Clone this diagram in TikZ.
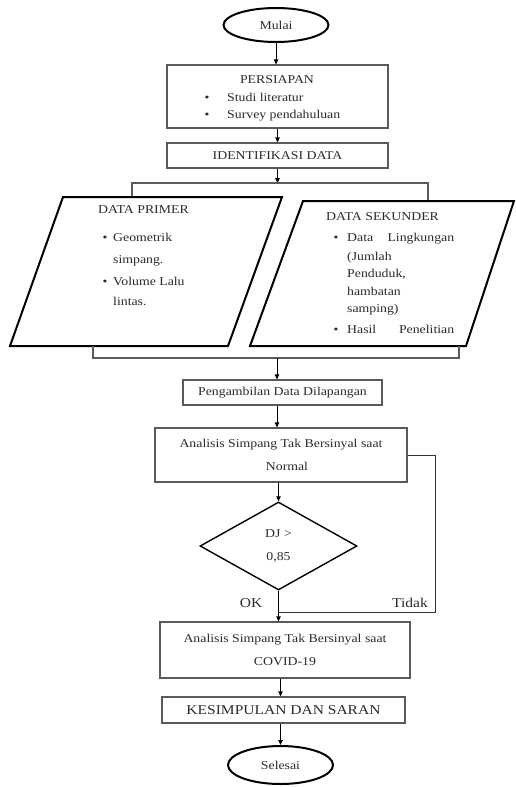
\documentclass[tikz,border=0pt]{standalone}
\usepackage{fontspec}
\setmainfont[FakeStretch=1.15]{Liberation Serif}
\usetikzlibrary{arrows.meta,shapes.geometric}
\definecolor{ink}{HTML}{2A2A2A}
\definecolor{boxline}{HTML}{5A5A5A}
\newcommand\myfs{\fontsize{12}{23}\selectfont}
\newcommand\mybig{\fontsize{13.5}{16}\selectfont}
\begin{document}
\begin{tikzpicture}[x=1pt,y=-1pt,
  every node/.style={text=ink,font=\myfs},
  term/.style={ellipse,draw=black,line width=2pt,inner sep=0pt},
  procbox/.style={rectangle,draw=boxline,line width=1.2pt,inner sep=0pt,align=center},
  decis/.style={diamond,draw=black,line width=1.4pt,inner sep=0pt,align=center},
  para/.style={draw=black,line width=2pt,line join=miter},
  conn/.style={draw=boxline,line width=1.1pt},
  fbline/.style={draw=black!80,line width=1pt},
  arr/.style={draw=black,line width=0.9pt,-{Triangle[length=5pt,width=4.5pt]}},
  txt/.style={inner sep=0pt,text height=8pt,text depth=2pt}]
\path[use as bounding box] (0,0) rectangle (516,787);

% top part
\node[term,minimum width=105pt,minimum height=34pt] (mulai) at (276,25) {Mulai};
\node[procbox,minimum width=221pt,minimum height=63pt] (persiapan) at (277.5,96.5) {};
\node[txt] (persT) at (277,80) {PERSIAPAN};
\node[txt] (pb1) at (207,98) {\textbullet};
\node[txt,anchor=west] (ps1) at (227,98) {Studi literatur};
\node[txt] (pb2) at (207,115) {\textbullet};
\node[txt,anchor=west] (ps2) at (227,115) {Survey pendahuluan};
\node[procbox,minimum width=221pt,minimum height=25pt] (ident) at (277.5,155.5) {IDENTIFIKASI DATA};

\draw[arr] (mulai.south) -- (mulai.south |- persiapan.north);
\draw[arr] (persiapan.south) -- (ident.north);
\coordinate (topbar) at (277.5,183);
\draw[arr] (ident.south) -- (topbar);
\coordinate (tbl) at (132,197);
\coordinate (tbr) at (428,183);
\coordinate (tbrd) at (428,201);
\draw[conn] (tbl) |- (tbr) -- (tbrd);

% parallelograms
\draw[para] (63,197) -- (282,197) -- (228,346) -- (10,346) -- cycle;
\draw[para] (303,201) -- (514,201) -- (466,346) -- (250,346) -- cycle;

\node[txt,anchor=west] (dp) at (98,210) {DATA PRIMER};
\node[txt] (dpb1) at (105,238) {\textbullet};
\node[txt,anchor=west] (dp1) at (113,238) {Geometrik};
\node[txt,anchor=west] (dp2) at (113,260) {simpang.};
\node[txt] (dpb2) at (105,282) {\textbullet};
\node[txt,anchor=west] (dp3) at (113,282) {Volume Lalu};
\node[txt,anchor=west] (dp4) at (113,302) {lintas.};

\node[txt,anchor=west] (ds) at (326,217) {DATA SEKUNDER};
\node[txt] (dsb1) at (336,238) {\textbullet};
\node[txt,anchor=west] (ds1) at (347,238) {\makebox[107pt][s]{Data\hfill Lingkungan}};
\node[txt,anchor=west] (ds2) at (347,257) {(Jumlah};
\node[txt,anchor=west] (ds3) at (347,274) {Penduduk,};
\node[txt,anchor=west] (ds4) at (347,292) {hambatan};
\node[txt,anchor=west] (ds5) at (347,309) {samping)};
\node[txt] (dsb2) at (336,330) {\textbullet};
\node[txt,anchor=west] (ds6) at (347,330) {\makebox[107pt][s]{Hasil\hfill Penelitian}};

\coordinate (bbl) at (93,346);
\coordinate (bbr) at (459,358);
\coordinate (bbru) at (459,346);
\draw[conn] (bbl) |- (bbr) -- (bbru);
\coordinate (botbar) at (277,358);

% lower part
\node[procbox,minimum width=199pt,minimum height=25pt] (peng) at (282.5,392.5) {Pengambilan Data Dilapangan};
\node[procbox,minimum width=252pt,minimum height=54pt] (normal) at (281,455) {Analisis Simpang Tak Bersinyal saat\\\hspace*{12pt}Normal};
\node[decis,minimum width=157pt,minimum height=88pt] (dj) at (278.5,546) {DJ >\\0,85};
\node[procbox,minimum width=250pt,minimum height=56pt] (covid) at (285,650) {Analisis Simpang Tak Bersinyal saat\\COVID-19};
\node[procbox,minimum width=243pt,minimum height=26pt,font=\mybig] (kes) at (283.5,710) {KESIMPULAN DAN SARAN};
\node[term,minimum width=105pt,minimum height=38pt] (selesai) at (280.5,765) {Selesai};

\draw[arr] (botbar) -- (botbar |- peng.north);
\draw[arr] (peng.south -| botbar) -- (normal.north -| botbar);
\draw[arr] (normal.south -| dj.north) -- (dj.north);
\draw[arr] (dj.south) -- (dj.south |- covid.north);
\coordinate (fb) at (435,612);
\coordinate (okjoin) at (278.5,612);
\draw[fbline] (normal.east) -| (fb) -- (okjoin);
\node[font=\mybig] (ok) at (251,603) {OK};
\node[font=\mybig] (tidak) at (410,603) {Tidak};
\draw[arr] (covid.south -| selesai.north) -- (kes.north -| selesai.north);
\draw[arr] (kes.south -| selesai.north) -- (selesai.north);
\end{tikzpicture}
\end{document}
